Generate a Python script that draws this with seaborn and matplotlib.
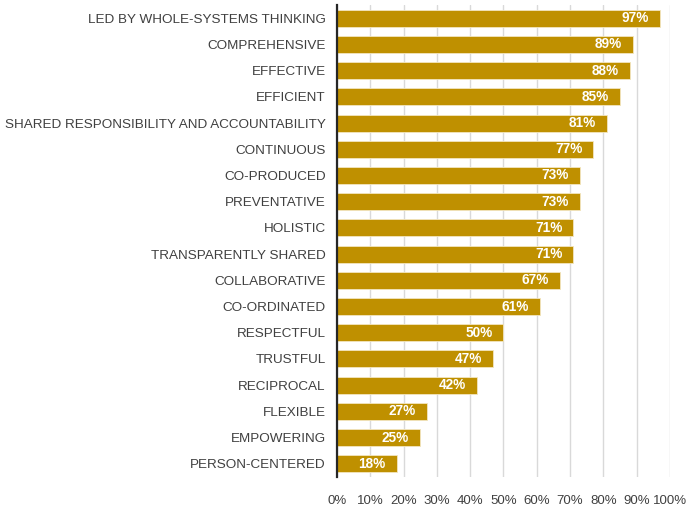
import matplotlib
matplotlib.use("Agg")
import matplotlib.pyplot as plt
import seaborn as sns
import pandas as pd

categories = [
    "LED BY WHOLE-SYSTEMS THINKING",
    "COMPREHENSIVE",
    "EFFECTIVE",
    "EFFICIENT",
    "SHARED RESPONSIBILITY AND ACCOUNTABILITY",
    "CONTINUOUS",
    "CO-PRODUCED",
    "PREVENTATIVE",
    "HOLISTIC",
    "TRANSPARENTLY SHARED",
    "COLLABORATIVE",
    "CO-ORDINATED",
    "RESPECTFUL",
    "TRUSTFUL",
    "RECIPROCAL",
    "FLEXIBLE",
    "EMPOWERING",
    "PERSON-CENTERED",
]
values = [97, 89, 88, 85, 81, 77, 73, 73, 71, 71, 67, 61, 50, 47, 42, 27, 25, 18]
tick_values = [0, 10, 20, 30, 40, 50, 60, 70, 80, 90, 100]
tick_labels = [f"{t}%" for t in tick_values]

df = pd.DataFrame({"category": categories, "value": values})

sns.set_style("white")
plt.rcParams["font.family"] = ["Liberation Sans", "DejaVu Sans"]

fig = plt.figure(figsize=(6.89, 5.09), dpi=100)
ax = fig.add_axes([0.489, 0.063, 0.4835, 0.927])

sns.barplot(data=df, x="value", y="category", orient="h", color="#BF9000",
            saturation=1, width=0.65, edgecolor="#F3E6C0", linewidth=0.6, ax=ax)

ax.set_xlim(0, 100)
ax.set_xticks(tick_values)
ax.set_xticklabels(tick_labels, fontsize=9.5, color="#404040")
ax.tick_params(axis="x", length=0, pad=13)
ax.tick_params(axis="y", length=0, pad=8, labelsize=9.7, labelcolor="#404040")
ax.set_xlabel("")
ax.set_ylabel("")

ax.xaxis.grid(True, color="#D9D9D9", linewidth=1)
ax.set_axisbelow(True)
for s in ["top", "right", "bottom"]:
    ax.spines[s].set_visible(False)
ax.spines["left"].set_color("#262626")
ax.spines["left"].set_linewidth(1.6)
ax.spines["left"].set_zorder(5)

for bar, v in zip(ax.patches, values):
    y = bar.get_y() + bar.get_height() / 2
    ax.annotate(f"{v}%", xy=(v, y), xytext=(-8, 0), textcoords="offset points",
                ha="right", va="center", color="white", fontsize=9.8,
                fontweight="bold")

fig.savefig("out.png", dpi=100)
